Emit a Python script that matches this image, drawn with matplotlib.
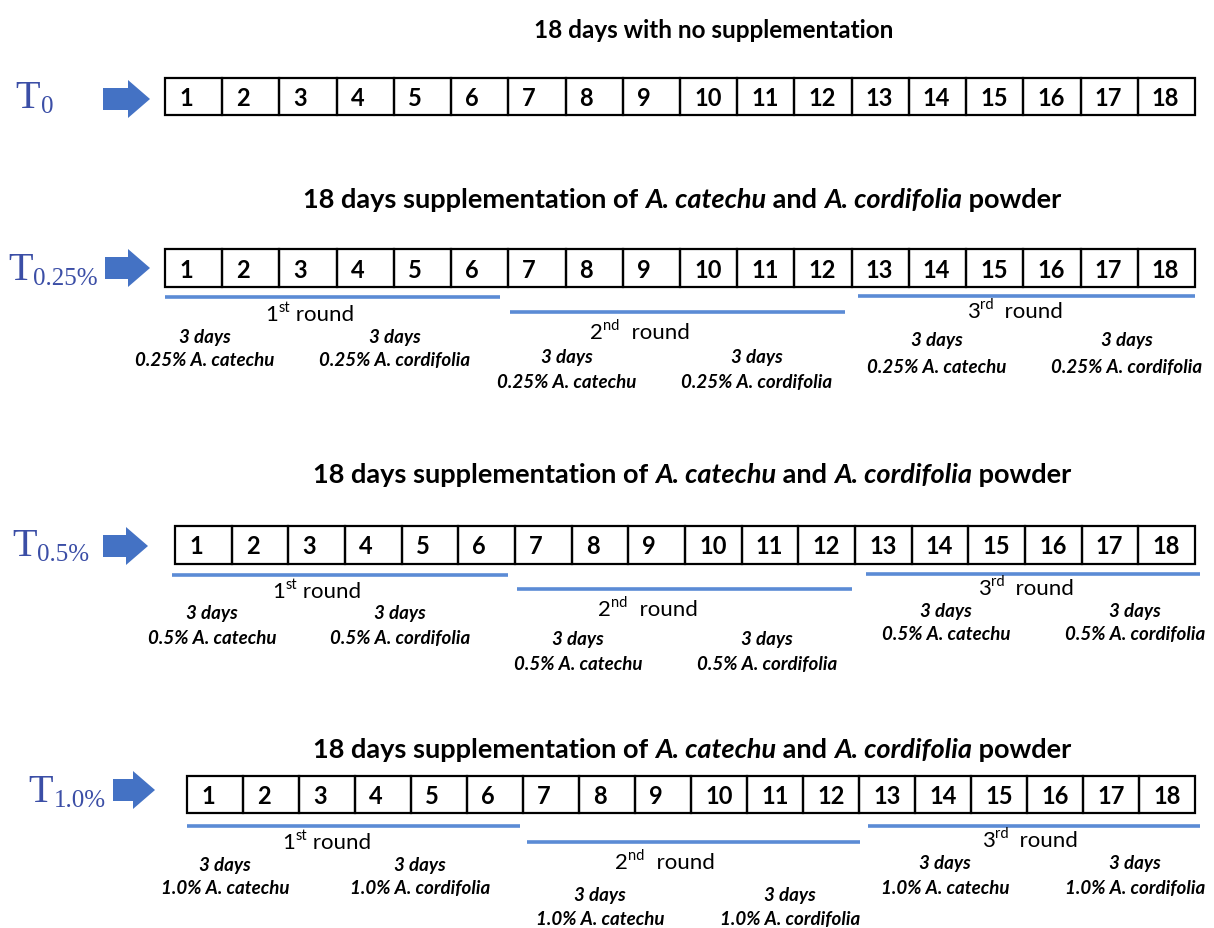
import matplotlib
matplotlib.use("Agg")
import matplotlib.pyplot as plt
from matplotlib.patches import Rectangle, FancyArrow

# 数据
days = list(range(1, 19))
treat_subs = ["0", "0.25%", "0.5%", "1.0%"]
doses = [None, "0.25%", "0.5%", "1.0%"]
round_nums = ["1", "2", "3"]
round_sups = ["st", "nd", "rd"]
round_gaps = [" round", "  round", "  round"]
herbs = ["A. catechu", "A. cordifolia"]
plain_title = "18 days with no supplementation"
supp_title = [("18 days supplementation of ", False), ("A. catechu", True),
              (" and ", False), ("A. cordifolia", True), (" powder", False)]

# 版面（像素坐标）
title_pos = [(714, 30), (682, 200), (692, 475), (692, 750)]
box_pos = [(165, 1195, 79, 116), (165, 1195, 250, 288),
           (175, 1195, 527, 565), (187, 1195, 777, 814)]
t_pos = [(15, 108), (8, 280), (12, 556), (28, 802)]
arrow_pos = [(103, 150, 100), (105, 150, 269), (103, 148, 547), (113, 155, 791)]
# (x0, x1, line_y, label_x, label_y, left_x, right_x, days_y, dose_y)
round_pos = [
    None,
    [(165, 500, 298, 310, 315, 205, 395, 337, 360),
     (510, 845, 313, 640, 333, 567, 757, 357, 382),
     (858, 1195, 297, 1015, 312, 937, 1127, 340, 367)],
    [(172, 508, 576, 317, 592, 212, 400, 614, 638),
     (517, 852, 590, 648, 610, 578, 767, 640, 664),
     (866, 1200, 575, 1026, 589, 946, 1135, 611, 635)],
    [(187, 520, 827, 327, 843, 225, 420, 866, 889),
     (527, 860, 843, 665, 863, 600, 790, 896, 920),
     (868, 1200, 827, 1030, 841, 945, 1135, 864, 889)],
]

SANS = ["Lato", "DejaVu Sans"]
BLUE_T = "#3b4ea6"
BLUE_ARROW = "#4472c4"
BLUE_LINE = "#5b8bd5"

W, H = 1214, 929
fig = plt.figure(figsize=(W / 100, H / 100), dpi=100)
ax = fig.add_axes([0, 0, 1, 1])
ax.set_xlim(0, W)
ax.set_ylim(H, 0)
ax.axis("off")
renderer = fig.canvas.get_renderer()


def draw_runs(cx, y, parts, va="center"):
    """依次绘制多段文字，整体居中于 cx"""
    texts = []
    for s, kw in parts:
        kw = dict(kw)
        dy = kw.pop("dy", 0)
        t = ax.text(0, y + dy, s, va=va, ha="left", **kw)
        texts.append(t)
    widths = [t.get_window_extent(renderer).width for t in texts]
    x = cx - sum(widths) / 2
    for t, w in zip(texts, widths):
        t.set_x(x)
        x += w


for i in range(4):
    # 标题
    tx, ty = title_pos[i]
    if i == 0:
        ax.text(tx, ty, plain_title, ha="center", va="center", fontsize=17.5,
                fontweight="bold", family=SANS)
    else:
        draw_runs(tx, ty, [(s, dict(fontsize=19.5, fontweight="bold", family=SANS,
                                    style="italic" if it else "normal"))
                           for s, it in supp_title])

    # 天数格子
    x0, x1, y0, y1 = box_pos[i]
    cw = (x1 - x0) / len(days)
    for k, d in enumerate(days):
        ax.add_patch(Rectangle((x0 + k * cw, y0), cw, y1 - y0, fill=False,
                               edgecolor="black", linewidth=1.6))
        ax.text(x0 + k * cw + 14, (y0 + y1) / 2 + 1, str(d), ha="left", va="center",
                fontsize=17, fontweight="bold", family=SANS)

    # T 标签
    lx, ly = t_pos[i]
    t1 = ax.text(lx, ly, "T", fontsize=29, family="Liberation Serif", color=BLUE_T,
                 va="baseline", ha="left")
    w = t1.get_window_extent(renderer).width
    ax.text(lx + w + 1, ly + 5, treat_subs[i], fontsize=18, family="Liberation Serif",
            color=BLUE_T, va="baseline", ha="left")

    # 箭头
    ax0, ax1, ay = arrow_pos[i]
    ax.add_patch(FancyArrow(ax0, ay, ax1 - ax0, 0, width=22, head_width=38,
                            head_length=22, length_includes_head=True,
                            color=BLUE_ARROW, linewidth=0))

    if round_pos[i] is None:
        continue
    for r, (rx0, rx1, line_y, lab_x, lab_y, left_x, right_x, days_y, dose_y) in enumerate(round_pos[i]):
        ax.plot([rx0, rx1], [line_y, line_y], color=BLUE_LINE, linewidth=2.6,
                solid_capstyle="butt")
        draw_runs(lab_x, lab_y + 6, [
            (round_nums[r], dict(fontsize=16, family=SANS)),
            (round_sups[r], dict(fontsize=10.5, family=SANS, dy=-9)),
            (round_gaps[r], dict(fontsize=16, family=SANS)),
        ], va="baseline")
        for hx, herb in zip([left_x, right_x], herbs):
            ax.text(hx, days_y, "3 days", ha="center", va="center", fontsize=13.5,
                    fontweight="bold", style="italic", family=SANS)
            ax.text(hx, dose_y, doses[i] + " " + herb, ha="center", va="center",
                    fontsize=13.5, fontweight="bold", style="italic", family=SANS)

fig.savefig("out.png", dpi=100)
